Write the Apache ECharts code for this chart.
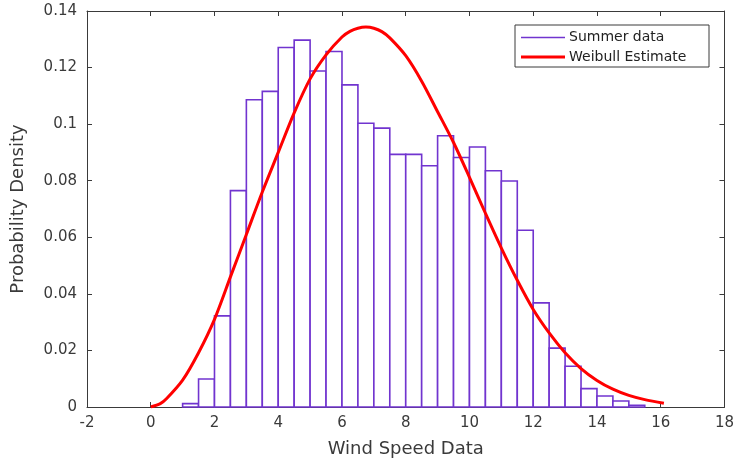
<!DOCTYPE html>
<html>
<head>
<meta charset="utf-8">
<style>
html, body { margin: 0; padding: 0; background: #fff; }
#myChart { width: 737px; height: 463px; }
</style>
<script src="https://cdn.jsdelivr.net/npm/echarts@6/dist/echarts.min.js"></script>
</head>
<body>
<div id="myChart"></div>
<script>
// histogram bins (left / right edges) and density
var binLeft = [1, 1.5, 2, 2.5, 3, 3.5, 4, 4.5, 5, 5.5, 6, 6.5, 7, 7.5, 8, 8.5, 9, 9.5, 10, 10.5, 11, 11.5, 12, 12.5, 13, 13.5, 14, 14.5, 15]
var binRight = [1.5, 2, 2.5, 3, 3.5, 4, 4.5, 5, 5.5, 6, 6.5, 7, 7.5, 8, 8.5, 9, 9.5, 10, 10.5, 11, 11.5, 12, 12.5, 13, 13.5, 14, 14.5, 15, 15.5]
var density = [0.0012, 0.0099, 0.0322, 0.0765, 0.1086, 0.1116, 0.1271, 0.1297, 0.1188, 0.1257, 0.1139, 0.1003, 0.0986, 0.0893, 0.0893, 0.0853, 0.0959, 0.0882, 0.0919, 0.0835, 0.0799, 0.0625, 0.0368, 0.0208, 0.0144, 0.0065, 0.0039, 0.0021, 0.0006]

// weibull estimate curve
var curveX = [0, 0.3, 0.5, 1, 1.5, 2, 2.5, 3, 3.5, 4, 4.5, 5, 5.5, 6, 6.25, 6.5, 6.75, 7, 7.25, 7.5, 8, 8.5, 9, 9.5, 10, 10.5, 11, 11.5, 12, 12.5, 13, 13.5, 14, 14.5, 15, 15.5, 16.1]
var curveY = [0, 0.0012, 0.003, 0.0095, 0.0192, 0.031, 0.046, 0.061, 0.076, 0.090, 0.104, 0.116, 0.1245, 0.1308, 0.1328, 0.1339, 0.1343, 0.1339, 0.1327, 0.1305, 0.1242, 0.1152, 0.1044, 0.0935, 0.0812, 0.0685, 0.0562, 0.0448, 0.0345, 0.0262, 0.0192, 0.0136, 0.0094, 0.0063, 0.0041, 0.0026, 0.0013]

// tick labels
var xTicks = [-2, 0, 2, 4, 6, 8, 10, 12, 14, 16, 18]
var yTicks = [0, 0.02, 0.04, 0.06, 0.08, 0.1, 0.12, 0.14]

var barColor = '#7134cf'
var axisColor = '#3a3a3a'
var font = '"DejaVu Sans", "Liberation Sans", sans-serif'

var hist = []
for (var i = 0; i < density.length; i++) {
  hist.push([binLeft[i], binRight[i], density[i]])
}
var curve = []
for (var j = 0; j < curveX.length; j++) {
  curve.push([curveX[j], curveY[j]])
}

var myChart = echarts.init(document.getElementById('myChart'))

var axisCommon = {
  axisLine: { show: true, onZero: false, lineStyle: { color: axisColor, width: 1 } },
  axisTick: { show: true, inside: true, length: 5, lineStyle: { color: axisColor } },
  splitLine: { show: false }
}

myChart.setOption({
  animation: false,
  grid: { left: 87, right: 10, top: 11, bottom: 53 },
  xAxis: [
    Object.assign({
      type: 'value',
      min: xTicks[0],
      max: xTicks[xTicks.length - 1],
      interval: xTicks[1] - xTicks[0],
      position: 'bottom',
      name: 'Wind Speed Data',
      nameLocation: 'middle',
      nameGap: 33,
      nameTextStyle: { fontFamily: font, fontSize: 18, color: '#3a3a3a' },
      axisLabel: { fontFamily: font, fontSize: 15, color: '#3a3a3a', margin: 9 }
    }, axisCommon),
    Object.assign({
      type: 'value',
      min: xTicks[0],
      max: xTicks[xTicks.length - 1],
      interval: xTicks[1] - xTicks[0],
      position: 'top',
      axisLabel: { show: false }
    }, axisCommon)
  ],
  yAxis: [
    Object.assign({
      type: 'value',
      min: yTicks[0],
      max: yTicks[yTicks.length - 1],
      interval: yTicks[1] - yTicks[0],
      position: 'left',
      name: 'Probability Density',
      nameLocation: 'middle',
      nameGap: 60,
      nameTextStyle: { fontFamily: font, fontSize: 18, color: '#3a3a3a' },
      axisLabel: { fontFamily: font, fontSize: 15, color: '#3a3a3a', margin: 10 }
    }, axisCommon),
    Object.assign({
      type: 'value',
      min: yTicks[0],
      max: yTicks[yTicks.length - 1],
      interval: yTicks[1] - yTicks[0],
      position: 'right',
      axisLabel: { show: false }
    }, axisCommon)
  ],
  series: [
    {
      name: 'Summer data',
      type: 'custom',
      xAxisIndex: 0,
      yAxisIndex: 0,
      encode: { x: [0, 1], y: 2 },
      z: 2,
      renderItem: function (params, api) {
        var p0 = api.coord([api.value(0), api.value(2)])
        var p1 = api.coord([api.value(1), 0])
        return {
          type: 'rect',
          shape: { x: p0[0], y: p0[1], width: p1[0] - p0[0], height: p1[1] - p0[1] },
          style: { fill: '#fff', stroke: barColor, lineWidth: 1.6 }
        }
      },
      data: hist
    },
    {
      name: 'Weibull Estimate',
      type: 'line',
      xAxisIndex: 0,
      yAxisIndex: 0,
      z: 3,
      smooth: 0.3,
      symbol: 'none',
      lineStyle: { color: '#ff0000', width: 3 },
      data: curve
    }
  ],
  // legend box (MATLAB style)
  graphic: [
    {
      type: 'rect',
      shape: { x: 515, y: 25, width: 194, height: 42 },
      style: { fill: '#fff', stroke: axisColor, lineWidth: 1 },
      z: 10
    },
    {
      type: 'line',
      shape: { x1: 521, y1: 37.5, x2: 565, y2: 37.5 },
      style: { stroke: barColor, lineWidth: 1.3 },
      z: 11
    },
    {
      type: 'text',
      x: 569, y: 37.5,
      style: { text: 'Summer data', fill: '#222', font: '14px ' + font, verticalAlign: 'middle' },
      z: 11
    },
    {
      type: 'line',
      shape: { x1: 521, y1: 57, x2: 565, y2: 57 },
      style: { stroke: '#ff0000', lineWidth: 3 },
      z: 11
    },
    {
      type: 'text',
      x: 569, y: 57,
      style: { text: 'Weibull Estimate', fill: '#222', font: '14px ' + font, verticalAlign: 'middle' },
      z: 11
    }
  ]
})
</script>
</body>
</html>
